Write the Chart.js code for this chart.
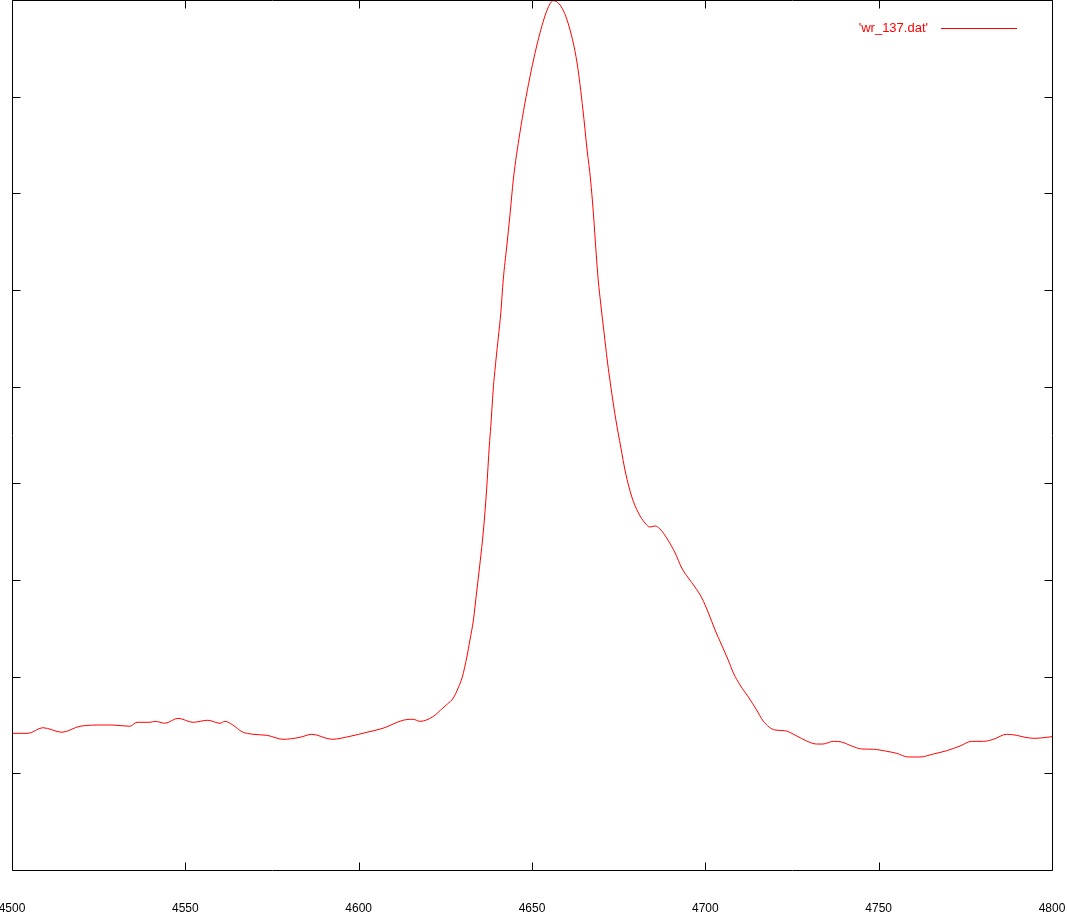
<!DOCTYPE html>
<html>
<head>
<meta charset="utf-8">
<script src="https://cdn.jsdelivr.net/npm/chart.js@4.4.1/dist/chart.umd.min.js"></script>
<style>
  html, body { margin: 0; padding: 0; background: #ffffff; }
  #wrap { width: 1067px; height: 915px; position: relative; }
</style>
</head>
<body>
<div id="wrap"><canvas id="c" width="1067" height="915"></canvas></div>
<script>
// Wavelength (x) values
const wavelengths = [
  4500.0, 4504.6, 4508.9, 4514.4, 4519.6, 4526.2, 4528.8, 4534.0, 4536.1, 4539.8,
  4541.3, 4544.1, 4547.9, 4552.2, 4556.5, 4560.0, 4561.4, 4563.7, 4566.3, 4569.5,
  4573.6, 4578.2, 4583.1, 4586.5, 4592.3, 4597.5, 4602.4, 4607.0, 4612.8, 4615.7,
  4617.7, 4621.4, 4624.3, 4625.6, 4627.3, 4628.7, 4629.9, 4631.2, 4632.1, 4633.1,
  4634.0, 4635.0, 4636.0, 4636.9, 4637.7, 4638.1, 4638.8, 4639.6, 4640.3, 4641.0,
  4641.7, 4642.7, 4643.7, 4644.6, 4646.5, 4649.4, 4652.3, 4654.6, 4656.1, 4658.1,
  4660.4, 4663.0, 4664.7, 4665.9, 4666.9, 4667.7, 4668.5, 4669.1, 4669.8, 4670.8,
  4671.7, 4673.0, 4674.2, 4675.6, 4677.0, 4678.8, 4680.7, 4682.6, 4684.0, 4685.5,
  4686.9, 4689.2, 4691.3, 4693.2, 4695.1, 4697.0, 4699.0, 4700.9, 4702.8, 4704.7,
  4706.6, 4708.1, 4710.0, 4712.4, 4714.8, 4716.7, 4720.1, 4722.9, 4726.4, 4729.2,
  4732.1, 4733.9, 4736.9, 4739.3, 4742.2, 4745.1, 4748.5, 4752.3, 4755.2, 4758.5,
  4761.9, 4765.8, 4769.6, 4773.5, 4776.8, 4780.2, 4783.1, 4786.9, 4789.8, 4792.2,
  4795.1, 4798.5, 4800.0
];
// Flux values
const flux = [
  1.414, 1.414, 1.472, 1.425, 1.487, 1.500, 1.500, 1.487, 1.528, 1.528,
  1.538, 1.518, 1.569, 1.528, 1.549, 1.518, 1.538, 1.500, 1.431, 1.404,
  1.393, 1.352, 1.373, 1.404, 1.352, 1.383, 1.425, 1.466, 1.549, 1.559,
  1.538, 1.586, 1.676, 1.717, 1.779, 1.883, 1.997, 2.203, 2.379, 2.586,
  2.866, 3.176, 3.517, 3.931, 4.397, 4.583, 4.966, 5.276, 5.514, 5.762,
  6.104, 6.445, 6.797, 7.138, 7.624, 8.204, 8.659, 8.917, 8.993, 8.948,
  8.762, 8.348, 7.862, 7.448, 7.138, 6.797, 6.383, 6.104, 5.866, 5.555,
  5.276, 4.935, 4.655, 4.376, 4.107, 3.859, 3.693, 3.590, 3.548, 3.559,
  3.528, 3.414, 3.279, 3.124, 3.021, 2.928, 2.814, 2.659, 2.483, 2.328,
  2.172, 2.038, 1.914, 1.790, 1.655, 1.541, 1.448, 1.441, 1.386, 1.335,
  1.303, 1.303, 1.331, 1.324, 1.283, 1.252, 1.249, 1.228, 1.207, 1.169,
  1.169, 1.200, 1.234, 1.283, 1.331, 1.331, 1.352, 1.404, 1.393, 1.373,
  1.362, 1.373, 1.379
];
const xTickLabels = [4500, 4550, 4600, 4650, 4700, 4750, 4800];
const yTickValues = [1, 2, 3, 4, 5, 6, 7, 8];
const seriesName = "'wr_137.dat'";

const framePlugin = {
  id: 'gnuplotFrame',
  afterDraw(chart) {
    const ctx = chart.ctx;
    const a = chart.chartArea;
    const xs = chart.scales.x, ys = chart.scales.y;
    const L = Math.round(a.left) + 0.5, R = Math.round(a.right) + 0.5;
    const T = Math.round(a.top) + 0.5, B = Math.round(a.bottom) + 0.5;
    ctx.save();
    ctx.strokeStyle = '#000000';
    ctx.lineWidth = 1;
    ctx.beginPath();
    ctx.rect(L, T, R - L, B - T);
    const tk = 8;
    xTickLabels.forEach(v => {
      const px = Math.round(xs.getPixelForValue(v)) + 0.5;
      ctx.moveTo(px, B); ctx.lineTo(px, B - tk);
      ctx.moveTo(px, T); ctx.lineTo(px, T + tk);
    });
    yTickValues.forEach(v => {
      const py = Math.round(ys.getPixelForValue(v)) + 0.5;
      ctx.moveTo(L, py); ctx.lineTo(L + tk, py);
      ctx.moveTo(R, py); ctx.lineTo(R - tk, py);
    });
    ctx.stroke();
    // legend: text then sample line
    ctx.fillStyle = '#ff0000';
    ctx.strokeStyle = '#ff0000';
    ctx.font = '13px "Liberation Sans", Arial, sans-serif';
    ctx.textAlign = 'right';
    ctx.textBaseline = 'middle';
    ctx.fillText(seriesName, 928, 28);
    ctx.beginPath();
    ctx.moveTo(941, 28.5); ctx.lineTo(1017, 28.5);
    ctx.stroke();
    ctx.restore();
  }
};

new Chart(document.getElementById('c'), {
  type: 'line',
  data: {
    datasets: [{
      label: seriesName,
      data: wavelengths.map((w, i) => ({ x: w, y: flux[i] })),
      borderColor: '#ff0000',
      borderWidth: 1,
      pointRadius: 0,
      fill: false,
      cubicInterpolationMode: 'monotone'
    }]
  },
  options: {
    responsive: false,
    animation: false,
    devicePixelRatio: 1,
    layout: { padding: { left: 12, right: 15, top: 0, bottom: 0 } },
    plugins: { legend: { display: false }, tooltip: { enabled: false } },
    scales: {
      x: {
        type: 'linear',
        min: 4500, max: 4800,
        afterBuildTicks: (s) => { s.ticks = xTickLabels.map(v => ({ value: v })); },
        afterFit: (s) => { s.paddingLeft = 0; s.paddingRight = 0; s.height = 45; },
        grid: { display: false, drawTicks: false },
        border: { display: false },
        ticks: {
          autoSkip: false, maxRotation: 0, padding: 31,
          color: '#000000',
          font: { family: '"Liberation Sans", Arial, sans-serif', size: 12 },
          callback: (v) => String(v)
        }
      },
      y: {
        type: 'linear',
        min: 0, max: 9,
        display: false
      }
    }
  },
  plugins: [framePlugin]
});
</script>
</body>
</html>
